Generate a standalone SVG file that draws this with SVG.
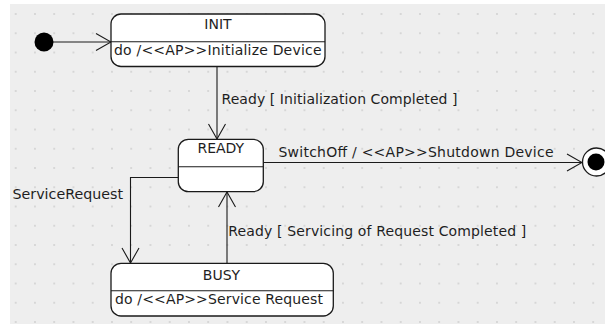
<svg xmlns="http://www.w3.org/2000/svg" width="605" height="324" viewBox="0 0 605 324">
  <style>
    .state { fill: #ffffff; stroke: #1a1a1a; stroke-width: 1.3; }
    .div { stroke: #1a1a1a; stroke-width: 1.1; fill: none; }
    .edge { stroke: #1a1a1a; stroke-width: 1.1; fill: none; marker-end: url(#open); }
    text { font-family: "DejaVu Sans", "Liberation Sans", sans-serif; font-size: 14px; fill: #1e1e1e; }
    .title { text-anchor: middle; }
  </style>
  <defs>
    <pattern id="grid" patternUnits="userSpaceOnUse" x="15.7" y="14" width="19.25" height="19.25">
      <rect x="-0.75" y="-0.75" width="1.5" height="1.5" fill="#c6c6c6"/>
      <rect x="18.5" y="-0.75" width="1.5" height="1.5" fill="#c6c6c6"/>
      <rect x="-0.75" y="18.5" width="1.5" height="1.5" fill="#c6c6c6"/>
      <rect x="18.5" y="18.5" width="1.5" height="1.5" fill="#c6c6c6"/>
    </pattern>
    <marker id="open" markerUnits="userSpaceOnUse" viewBox="-17 -10 18 20" markerWidth="18" markerHeight="20" refX="0" refY="0" orient="auto">
      <path d="M-15,-8.5 L0,0 L-15,8.5" fill="none" stroke="#1a1a1a" stroke-width="1.1"/>
    </marker>
  </defs>

  <!-- canvas -->
  <rect x="0" y="0" width="605" height="324" fill="#ffffff"/>
  <rect x="10" y="4" width="595" height="320" fill="#eeeeee"/>
  <rect x="10" y="4" width="595" height="320" fill="url(#grid)"/>

  <!-- transitions -->
  <g id="connectors">
    <path class="edge" d="M53,42 H111"/>
    <path class="edge" d="M217,66.5 V139"/>
    <path class="edge" d="M263.5,162.5 H582"/>
    <path class="edge" d="M178,177.5 H130.5 V263"/>
    <path class="edge" d="M227,263 V192"/>
    <text x="221.5" y="104.3" textLength="236" lengthAdjust="spacing">Ready [ Initialization Completed ]</text>
    <text x="278.5" y="156.7" textLength="275" lengthAdjust="spacing">SwitchOff / &lt;&lt;AP&gt;&gt;Shutdown Device</text>
    <text x="12.5" y="198.7" textLength="110.5" lengthAdjust="spacingAndGlyphs">ServiceRequest</text>
    <text x="228.3" y="236.3" textLength="298" lengthAdjust="spacing">Ready [ Servicing of Request Completed ]</text>
  </g>

  <!-- pseudo states -->
  <g id="initial">
    <circle cx="44" cy="42" r="9.5" fill="#000000"/>
  </g>
  <g id="final">
    <circle cx="596.5" cy="162" r="14" fill="#ffffff" stroke="#1a1a1a" stroke-width="1.3"/>
    <circle cx="596" cy="162" r="8.5" fill="#000000"/>
  </g>

  <!-- states -->
  <g id="init">
    <rect class="state" x="111" y="14" width="214" height="52.5" rx="10" ry="10"/>
    <line class="div" x1="111" y1="41.7" x2="325" y2="41.7"/>
    <text class="title" x="218" y="29.3">INIT</text>
    <text x="114" y="55.3" textLength="207.5" lengthAdjust="spacing">do /&lt;&lt;AP&gt;&gt;Initialize Device</text>
  </g>

  <g id="ready">
    <rect class="state" x="178.3" y="139.3" width="85" height="52.4" rx="10" ry="10"/>
    <line class="div" x1="178.3" y1="166.7" x2="263.3" y2="166.7"/>
    <text class="title" x="220.8" y="153.3">READY</text>
  </g>

  <g id="busy">
    <rect class="state" x="111" y="263.3" width="222.3" height="52.7" rx="10" ry="10"/>
    <line class="div" x1="111" y1="290.7" x2="333.3" y2="290.7"/>
    <text class="title" x="221.5" y="280">BUSY</text>
    <text x="115" y="304.3" textLength="208" lengthAdjust="spacing">do /&lt;&lt;AP&gt;&gt;Service Request</text>
  </g>
</svg>
